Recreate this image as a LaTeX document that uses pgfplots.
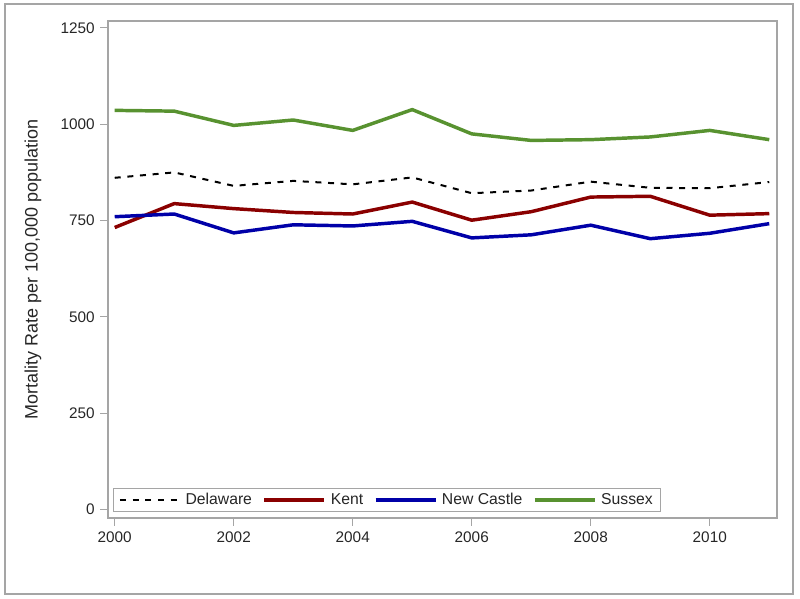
\documentclass[border=0pt]{standalone}
\usepackage{pgfplots}
\pgfplotsset{compat=1.18}
\usepackage{fontspec}
\setmainfont{Liberation Sans}
\definecolor{sgreen}{RGB}{88,146,48}
\definecolor{kred}{RGB}{138,0,0}
\definecolor{nblue}{RGB}{0,0,168}
\definecolor{frame}{RGB}{165,165,165}
\begin{document}
\begin{tikzpicture}[x=1pt,y=1pt]
\useasboundingbox (-81,-60.75) rectangle (519,388.5);
\draw[frame, line width=1.1pt] (-77.25,-57) rectangle (513.75,385.5);
\begin{axis}[
  at={(0,0)}, anchor=south west,
  scale only axis,
  width=501.75pt, height=372.75pt,
  xmin=1999.887, xmax=2011.13,
  ymin=-22, ymax=1268,
  xtick={2000,2002,...,2010},
  ytick={0,250,500,750,1000,1250},
  axis line style={frame, line width=0.8pt},
  tick style={frame, line width=0.8pt},
  tick align=outside,
  major tick length=6pt,
  xtick pos=bottom, ytick pos=left,
  /pgf/number format/assume math mode=true,
  /pgf/number format/set thousands separator={},
  tick label style={font=\fontsize{11.5}{13}\selectfont, text=black!85},
  xticklabel style={yshift=-1pt},
  yticklabel style={xshift=-0.5pt},
  ylabel={Mortality Rate per 100,000 population},
  ylabel style={at={(axis description cs:-0.112,0.5)}, anchor=center, rotate=0, font=\fontsize{13.5}{15}\selectfont, text=black!85},
  legend style={at={(axis description cs:0.0075,0.012)}, anchor=south west, draw=frame, line width=0.8pt,
    font=\fontsize{11.8}{14}\selectfont, text=black!85, inner xsep=4pt, inner ysep=1.5pt, row sep=0pt,
    /tikz/every even column/.append style={column sep=6pt},
    /tikz/every odd column/.append style={column sep=1.5pt}},
  legend columns=-1,
  legend image code/.code={\draw[#1] (0pt,0pt) -- (45pt,0pt);},
]
\addplot[black, line width=1.5pt, dash pattern=on 4.5pt off 5pt] coordinates {
(2000,861) (2001,875) (2002,840) (2003,853) (2004,844) (2005,862) (2006,821) (2007,828) (2008,851) (2009,835) (2010,834) (2011,850)};
\addlegendentry{Delaware}
\addplot[kred, line width=2.6pt] coordinates {
(2000,732) (2001,794) (2002,781) (2003,771) (2004,767) (2005,798) (2006,751) (2007,773) (2008,811) (2009,813) (2010,764) (2011,768)};
\addlegendentry{Kent}
\addplot[nblue, line width=2.6pt] coordinates {
(2000,760) (2001,767) (2002,718) (2003,739) (2004,736) (2005,748) (2006,705) (2007,713) (2008,738) (2009,703) (2010,717) (2011,742)};
\addlegendentry{New Castle}
\addplot[sgreen, line width=2.6pt] coordinates {
(2000,1036) (2001,1034) (2002,997) (2003,1011) (2004,984) (2005,1038) (2006,975) (2007,958) (2008,960) (2009,967) (2010,984) (2011,960)};
\addlegendentry{Sussex}
\end{axis}
\end{tikzpicture}
\end{document}
